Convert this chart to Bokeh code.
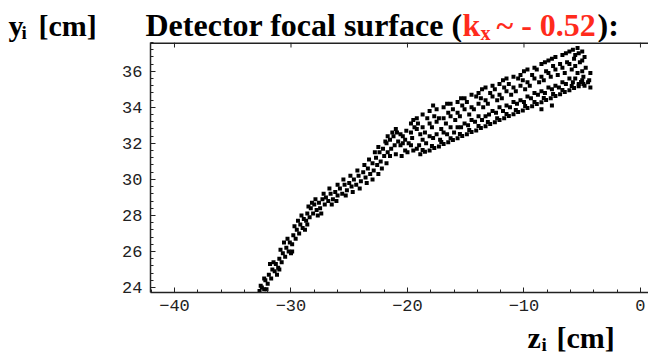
from bokeh.plotting import figure
from bokeh.models import Range1d, SingleIntervalTicker, ColumnDataSource
from bokeh.layouts import column
from bokeh.core.properties import value
from bokeh.embed import file_html
from bokeh.resources import INLINE

# ---- data (z_i, y_i in cm) ----
arm_z = [-32.7, -32.5, -32.3, -32.2, -32.0, -31.9, -31.7, -31.6, -31.4, -31.3, -31.1, -31.0,
         -30.8, -30.7, -30.5, -30.4, -30.2, -30.1, -29.9, -29.8, -29.6, -29.5, -29.3, -29.2,
         -29.0, -28.9, -28.7, -28.6, -28.4, -28.3, -28.1, -28.0, -27.8, -27.6, -27.5, -27.3,
         -27.1, -27.0, -26.8, -26.6, -26.4, -26.2, -26.0, -25.8, -25.6, -25.4, -25.2, -25.0,
         -24.8, -24.6, -24.4, -24.2, -24.0, -23.8, -23.6, -23.4, -23.2, -23.0, -22.9, -22.7,
         -22.6, -22.4, -22.3, -22.1, -22.0, -21.8, -21.7, -21.5, -21.4, -21.2, -21.1, -20.9,
         -20.8, -20.6, -20.4,
         -32.1, -31.2, -30.0, -28.8, -27.7, -26.5, -25.3, -24.1, -23.0, -22.2, -21.5,
         -31.8, -30.6, -29.4, -28.2, -27.2, -26.0, -24.9, -23.7, -22.8, -21.9, -21.3,
         -32.6, -32.3, -31.5, -30.9, -30.3, -29.7, -29.1, -28.5, -27.9, -26.7, -25.5, -24.3,
         -23.3, -22.5, -21.7, -21.0,
         -31.0, -29.9, -28.6, -27.4, -26.1, -24.7, -23.5, -22.5, -21.8, -21.0]
arm_y = [23.8, 24.0, 23.9, 24.4, 24.2, 24.7, 24.5, 25.0, 24.9, 25.3, 25.1, 25.6,
         25.4, 25.9, 25.7, 26.2, 26.0, 26.5, 26.4, 26.9, 26.7, 27.2, 27.0, 27.5,
         27.3, 27.8, 27.7, 28.1, 27.9, 28.4, 28.1, 28.6, 28.3, 28.7, 28.4, 28.9,
         28.6, 29.0, 28.8, 29.2, 28.9, 29.3, 29.1, 29.5, 29.2, 29.7, 29.4, 29.8,
         29.6, 30.0, 29.7, 30.2, 29.9, 30.4, 30.1, 30.6, 30.3, 30.9, 30.5, 31.2,
         30.8, 31.5, 31.0, 31.7, 31.3, 32.0, 31.5, 32.2, 31.7, 32.4, 31.9, 32.6,
         32.1, 32.5, 32.0,
         23.9, 24.7, 25.9, 27.2, 28.0, 28.6, 29.1, 29.5, 30.0, 30.6, 31.3,
         25.3, 26.5, 27.7, 28.7, 29.2, 29.7, 30.2, 30.8, 31.5, 32.1, 32.6,
         24.1, 24.5, 25.4, 26.1, 26.7, 27.4, 28.0, 28.5, 28.9, 29.5, 30.0, 30.5,
         31.1, 31.8, 32.4, 32.8,
         25.0, 26.0, 27.5, 28.1, 28.8, 29.3, 29.8, 30.3, 30.9, 31.4]

line_z = [-18.9, -18.5, -18.1, -17.7, -17.3, -16.9, -16.5, -16.1, -15.7, -15.3, -14.9, -14.5,
          -14.1, -13.7, -13.3, -12.9, -12.5, -12.1, -11.7, -11.3, -10.9, -10.5, -10.1, -9.7,
          -9.3, -8.9, -8.5, -8.1, -7.7, -7.3, -6.9, -6.5, -6.1, -5.7, -5.3, -4.9, -4.5,
          -18.7, -17.9, -17.1, -16.3, -15.5, -14.7, -13.9, -13.1, -12.3, -11.5, -10.7, -9.9,
          -9.1, -8.3, -7.5, -6.7, -5.9, -5.1]
line_y = [31.40, 31.53, 31.61, 31.74, 31.83, 31.97, 32.06, 32.19, 32.28, 32.41, 32.50, 32.63,
          32.72, 32.85, 32.95, 33.08, 33.17, 33.30, 33.39, 33.52, 33.61, 33.74, 33.83, 33.97,
          34.06, 34.19, 34.28, 34.41, 34.50, 34.63, 34.72, 34.85, 34.95, 35.08, 35.17, 35.30, 35.40,
          31.63, 31.85, 32.07, 32.29, 32.52, 32.74, 32.96, 33.18, 33.40, 33.63, 33.85, 34.07,
          34.29, 34.52, 34.74, 34.96, 35.18, 35.41]

band_z = [-20.5, -20.6, -20.4,
          -20.0, -19.9, -20.1,
          -19.5, -19.6, -19.4, -19.5,
          -19.0, -18.9, -19.1,
          -18.4, -18.5, -18.3,
          -17.8, -17.9, -17.7, -17.8,
          -17.2, -17.1, -17.3,
          -16.6, -16.7, -16.5, -16.6,
          -16.0, -15.9, -16.1,
          -15.4, -15.5, -15.3, -15.4,
          -14.8, -14.7, -14.9,
          -14.2, -14.3, -14.1,
          -13.6, -13.5, -13.7, -13.6,
          -13.0, -13.1, -12.9,
          -12.4, -12.3, -12.5,
          -11.8, -11.9, -11.7, -11.8,
          -11.2, -11.1, -11.3,
          -10.6, -10.7, -10.5,
          -10.0, -9.9, -10.1, -10.0,
          -9.4, -9.5, -9.3,
          -8.8, -8.7, -8.9,
          -8.2, -8.3, -8.1, -8.2,
          -7.6, -7.7, -7.5, -7.6,
          -7.0, -7.1, -6.9,
          -6.4, -6.5, -6.3, -6.4,
          -5.8, -5.9, -5.7, -5.8,
          -5.3, -5.4, -5.2, -5.3, -5.4,
          -4.8, -4.9, -4.7, -4.8,
          -4.3, -4.4, -4.3,
          -8.5, -7.6,
          -20.2, -20.2, -19.7, -19.7, -19.7, -19.2, -19.2, -19.2, -18.7, -18.7, -18.7,
          -18.1, -18.1, -18.1, -17.5, -17.5, -17.5, -16.9, -16.9, -16.9, -16.3, -16.3, -16.3,
          -15.7, -15.7, -15.7, -15.1, -15.1, -15.1, -14.5, -14.5, -14.5, -13.9, -13.9, -13.9,
          -13.3, -13.3, -13.3, -12.7, -12.7, -12.7, -12.1, -12.1, -12.1, -11.5, -11.5, -11.5,
          -10.9, -10.9, -10.9, -10.3, -10.3, -10.3, -9.7, -9.7, -9.7, -9.1, -9.1, -9.1,
          -8.5, -8.5, -8.5, -7.9, -7.9, -7.9, -7.3, -7.3, -7.3, -6.7, -6.7, -6.7,
          -6.1, -6.1, -6.1, -5.6, -5.6, -5.6, -5.0, -5.0, -5.0, -5.0]
band_y = [31.3, 31.9, 32.4,
          31.5, 32.0, 32.7,
          31.6, 32.3, 32.9, 33.3,
          31.9, 32.5, 33.1,
          32.0, 32.6, 33.4,
          32.3, 32.9, 33.5, 34.1,
          32.2, 32.8, 33.4,
          32.5, 33.1, 33.7, 34.2,
          32.6, 33.3, 33.9,
          32.9, 33.5, 34.1, 34.5,
          33.0, 33.6, 34.3,
          33.2, 33.9, 34.6,
          33.3, 34.0, 34.5, 35.0,
          33.6, 34.2, 34.8,
          33.7, 34.4, 35.0,
          33.8, 34.5, 35.1, 35.5,
          34.0, 34.7, 35.3,
          34.2, 34.9, 35.6,
          34.3, 35.0, 35.5, 36.0,
          34.5, 35.2, 35.8,
          34.7, 35.4, 36.1,
          34.8, 35.5, 36.0, 36.5,
          35.0, 35.7, 36.3, 36.7,
          35.1, 35.8, 36.4,
          35.3, 35.9, 36.5, 37.0,
          35.4, 36.1, 36.7, 37.2,
          35.3, 35.9, 36.5, 37.0, 37.3,
          35.2, 35.7, 36.2, 36.8,
          35.1, 35.5, 35.9,
          33.9, 34.1,
          31.6, 32.2, 31.9, 32.6, 33.1, 31.7, 32.8, 33.4, 32.2, 32.9, 33.6,
          32.4, 33.1, 33.8, 32.5, 33.2, 33.9, 32.6, 33.4, 34.0, 32.9, 33.5, 34.2,
          32.9, 33.7, 34.3, 33.1, 33.9, 34.5, 33.3, 34.0, 34.7, 33.5, 34.2, 34.8,
          33.5, 34.4, 35.1, 33.8, 34.6, 35.2, 34.0, 34.7, 35.3, 34.1, 34.9, 35.6,
          34.3, 35.1, 35.7, 34.4, 35.2, 35.8, 34.6, 35.4, 36.1, 34.8, 35.6, 36.2,
          34.9, 35.7, 36.4, 35.1, 35.9, 36.6, 35.2, 36.1, 36.8, 35.4, 36.2, 36.9,
          35.6, 36.4, 37.1, 35.6, 36.3, 36.9, 35.5, 36.0, 36.6, 37.1]

z_all = arm_z + line_z + band_z
y_all = arm_y + line_y + band_y

x_ticks = [-40, -30, -20, -10, 0]
x_tick_labels = ["\u221240", "\u221230", "\u221220", "\u221210", "0"]

title_parts = ["Detector focal surface (", "k", "x", "~ - 0.52", "):"]
ylabel_parts = ["y", "i", "[cm]"]
zlabel_parts = ["z", "i", "[cm]"]
RED = "#ff2b1c"
INK = "#222222"
SERIF = "Liberation Serif"
W = 648
HEAD_H, FOOT_H = 42, 40
MAIN_H = 360 - HEAD_H - FOOT_H
X0, X1 = -42.06, 0.69
Y0, Y1 = 23.72, 37.6

def text_fig(height, top_px):
    f = figure(width=W, height=height, output_backend="svg", toolbar_location=None,
               x_range=Range1d(0, W), y_range=Range1d(top_px + height, top_px),
               x_axis_type=None, y_axis_type=None, min_border=0, frame_align=False)
    f.outline_line_color = None
    f.background_fill_color = "white"
    f.border_fill_color = "white"
    return f

def put(f, txt, x, y, size, color="black"):
    # y: wanted baseline in page pixels; the glyph sits about a quarter em lower
    f.text(x=[x], y=[y - 0.25 * size], text=[txt], text_font=value(SERIF),
           text_font_style="bold", text_font_size=value(f"{size}px"), text_color=color,
           text_baseline="alphabetic", text_align="left")

# ---- header: title and y label (coordinates in page pixels from the top-left) ----
head = text_fig(HEAD_H, 0)
put(head, ylabel_parts[0], 8, 32, 30)
put(head, ylabel_parts[1], 21, 37, 19)
put(head, ylabel_parts[2], 38, 32, 30)
put(head, title_parts[0], 145, 32, 32)
put(head, title_parts[1], 462, 32, 32, RED)
put(head, title_parts[2], 480, 37, 20, RED)
put(head, title_parts[3], 496, 32, 32, RED)
put(head, title_parts[4], 597, 32, 32)

# ---- main plot ----
p = figure(width=W, height=MAIN_H, output_backend="svg", toolbar_location=None,
           x_range=Range1d(X0, X1), y_range=Range1d(Y0, Y1), frame_align=False,
           min_border_left=150, min_border_right=0, min_border_top=0, min_border_bottom=28)
p.background_fill_color = "white"
p.border_fill_color = "white"
p.outline_line_color = None
p.xgrid.visible = False
p.ygrid.visible = False

src = ColumnDataSource(dict(z=z_all, y=y_all))
p.scatter("z", "y", source=src, marker="square", size=4, fill_color="black", line_color=None)

# top frame edge with inward major ticks
frame_h_px = MAIN_H - 28
tick_len = 5 * (Y1 - Y0) / frame_h_px
p.segment(x0=[X0], y0=[Y1], x1=[X1], y1=[Y1], line_color=INK, line_width=3)
p.segment(x0=x_ticks, y0=[Y1] * len(x_ticks), x1=x_ticks, y1=[Y1 - tick_len] * len(x_ticks),
          line_color=INK, line_width=1)

xa = p.xaxis[0]
xa.ticker = SingleIntervalTicker(interval=10, num_minor_ticks=5)
xa.major_label_overrides = {t: s for t, s in zip(x_ticks, x_tick_labels)}
ya = p.yaxis[0]
ya.ticker = SingleIntervalTicker(interval=2, num_minor_ticks=5)
for ax in (xa, ya):
    ax.axis_line_color = INK
    ax.axis_line_width = 1.5
    ax.major_tick_in = 5
    ax.major_tick_out = 0
    ax.minor_tick_in = 3
    ax.minor_tick_out = 0
    ax.major_tick_line_color = INK
    ax.minor_tick_line_color = INK
    ax.major_label_text_font = "Liberation Mono"
    ax.major_label_text_font_size = "17px"
    ax.major_label_text_color = INK
xa.major_label_standoff = 7
ya.major_label_standoff = 8

# ---- footer: z label ----
foot = text_fig(FOOT_H, HEAD_H + MAIN_H)
put(foot, zlabel_parts[0], 527, 344, 30)
put(foot, zlabel_parts[1], 541, 349, 19)
put(foot, zlabel_parts[2], 556, 344, 30)

layout = column(head, p, foot, spacing=0)
open("out.html", "w").write(file_html(layout, INLINE))
